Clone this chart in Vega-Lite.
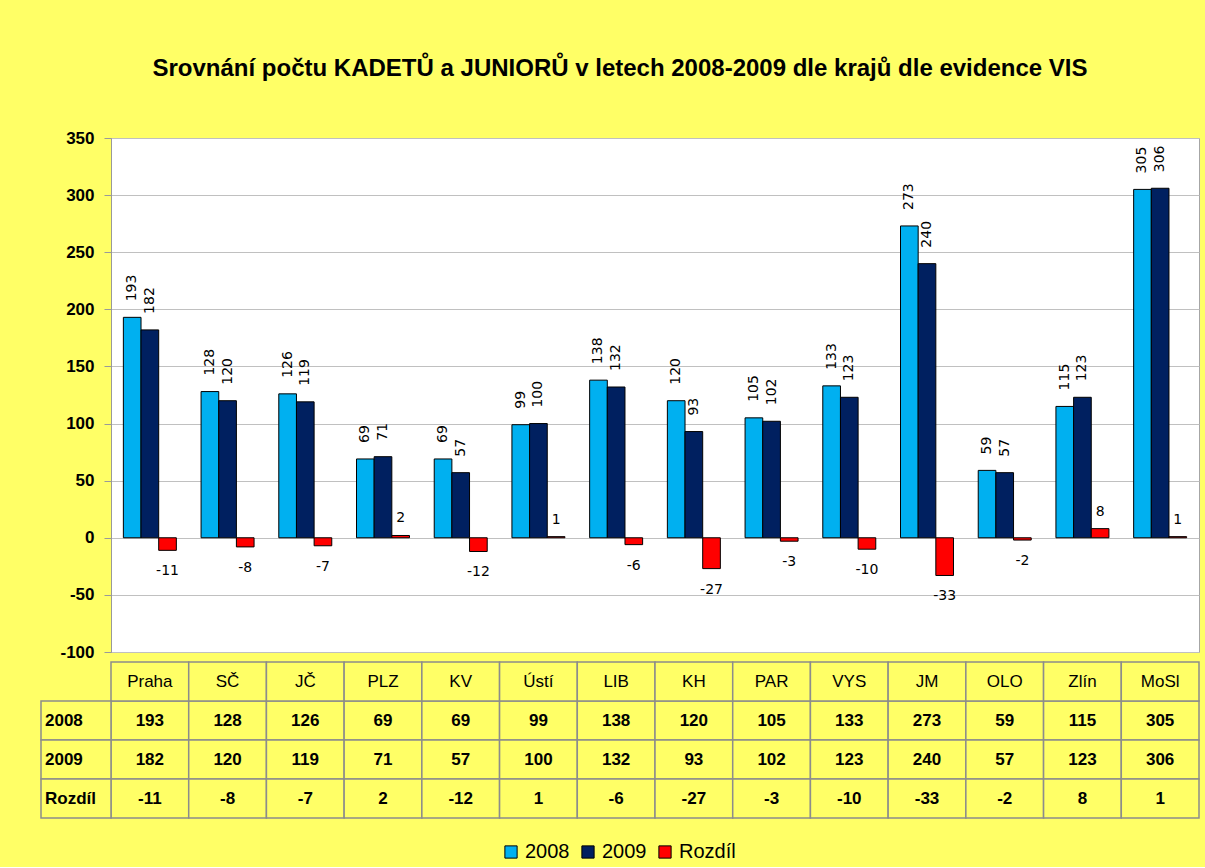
{
  "$schema": "https://vega.github.io/schema/vega-lite/v6.json",
  "background": "#FFFF66",
  "padding": {"left": 40, "top": 56, "right": 7, "bottom": 5},
  "title": {"text": "Srovnání počtu KADETŮ a JUNIORŮ v letech 2008-2009 dle krajů dle evidence VIS", "font": "Liberation Sans", "fontSize": 24, "fontWeight": "bold", "color": "black", "offset": 48, "anchor": "middle"},
  "config": {"view": {"stroke": null}, "font": "Liberation Sans"},
  "spacing": 0,
  "datasets": {
    "d": [
      {"kraj": "Praha", "rok": "2008", "hodnota": 193}, {"kraj": "Praha", "rok": "2009", "hodnota": 182}, {"kraj": "Praha", "rok": "Rozdíl", "hodnota": -11},
      {"kraj": "SČ", "rok": "2008", "hodnota": 128}, {"kraj": "SČ", "rok": "2009", "hodnota": 120}, {"kraj": "SČ", "rok": "Rozdíl", "hodnota": -8},
      {"kraj": "JČ", "rok": "2008", "hodnota": 126}, {"kraj": "JČ", "rok": "2009", "hodnota": 119}, {"kraj": "JČ", "rok": "Rozdíl", "hodnota": -7},
      {"kraj": "PLZ", "rok": "2008", "hodnota": 69}, {"kraj": "PLZ", "rok": "2009", "hodnota": 71}, {"kraj": "PLZ", "rok": "Rozdíl", "hodnota": 2},
      {"kraj": "KV", "rok": "2008", "hodnota": 69}, {"kraj": "KV", "rok": "2009", "hodnota": 57}, {"kraj": "KV", "rok": "Rozdíl", "hodnota": -12},
      {"kraj": "Ústí", "rok": "2008", "hodnota": 99}, {"kraj": "Ústí", "rok": "2009", "hodnota": 100}, {"kraj": "Ústí", "rok": "Rozdíl", "hodnota": 1},
      {"kraj": "LIB", "rok": "2008", "hodnota": 138}, {"kraj": "LIB", "rok": "2009", "hodnota": 132}, {"kraj": "LIB", "rok": "Rozdíl", "hodnota": -6},
      {"kraj": "KH", "rok": "2008", "hodnota": 120}, {"kraj": "KH", "rok": "2009", "hodnota": 93}, {"kraj": "KH", "rok": "Rozdíl", "hodnota": -27},
      {"kraj": "PAR", "rok": "2008", "hodnota": 105}, {"kraj": "PAR", "rok": "2009", "hodnota": 102}, {"kraj": "PAR", "rok": "Rozdíl", "hodnota": -3},
      {"kraj": "VYS", "rok": "2008", "hodnota": 133}, {"kraj": "VYS", "rok": "2009", "hodnota": 123}, {"kraj": "VYS", "rok": "Rozdíl", "hodnota": -10},
      {"kraj": "JM", "rok": "2008", "hodnota": 273}, {"kraj": "JM", "rok": "2009", "hodnota": 240}, {"kraj": "JM", "rok": "Rozdíl", "hodnota": -33},
      {"kraj": "OLO", "rok": "2008", "hodnota": 59}, {"kraj": "OLO", "rok": "2009", "hodnota": 57}, {"kraj": "OLO", "rok": "Rozdíl", "hodnota": -2},
      {"kraj": "Zlín", "rok": "2008", "hodnota": 115}, {"kraj": "Zlín", "rok": "2009", "hodnota": 123}, {"kraj": "Zlín", "rok": "Rozdíl", "hodnota": 8},
      {"kraj": "MoSl", "rok": "2008", "hodnota": 305}, {"kraj": "MoSl", "rok": "2009", "hodnota": 306}, {"kraj": "MoSl", "rok": "Rozdíl", "hodnota": 1}
    ]
  },
  "vconcat": [
    {
      "width": 1088,
      "height": 514,
      "data": {"name": "d"},
      "view": {"fill": "white", "stroke": "#a6a6a6"},
      "encoding": {
        "x": {"field": "kraj", "type": "nominal", "sort": null, "axis": null, "scale": {"paddingInner": 0, "paddingOuter": 0}},
        "xOffset": {"field": "rok", "type": "nominal", "sort": null, "scale": {"paddingInner": 0, "paddingOuter": 0.7}},
        "y": {"field": "hodnota", "type": "quantitative", "scale": {"domain": [-100, 350], "nice": false, "zero": false},
          "axis": {"title": null, "values": [-100, -50, 0, 50, 100, 150, 200, 250, 300, 350], "labelExpr": "'' + datum.value", "tickSize": 7, "tickColor": "#999999", "domainColor": "#999999", "gridColor": "#c0c0c0", "labelFont": "Liberation Sans", "labelFontSize": 17, "labelFontWeight": "bold", "labelColor": "black", "labelPadding": 10}}
      },
      "layer": [
        {
          "mark": {"type": "bar", "stroke": "black", "strokeWidth": 1},
          "encoding": {
            "color": {"field": "rok", "type": "nominal", "sort": null,
              "scale": {"domain": ["2008", "2009", "Rozdíl"], "range": ["#00B0F0", "#002060", "#FF0000"]},
              "legend": {"orient": "none", "legendX": 390, "legendY": 704, "direction": "horizontal", "title": null, "symbolType": "square", "symbolSize": 150, "symbolStrokeColor": "black", "symbolStrokeWidth": 1, "labelFont": "Liberation Sans", "labelFontSize": 20, "labelColor": "black", "labelOffset": 4, "columnPadding": 8}}
          }
        },
        {
          "transform": [{"filter": "datum.rok !== 'Rozdíl'"}],
          "mark": {"type": "text", "angle": 270, "align": "left", "baseline": "middle", "dx": 16, "font": "DejaVu Sans", "fontSize": 14, "color": "black"},
          "encoding": {"text": {"field": "hodnota", "type": "nominal"}}
        },
        {
          "transform": [{"filter": "datum.rok === 'Rozdíl' && datum.hodnota < 0"}],
          "mark": {"type": "text", "align": "center", "baseline": "top", "dy": 14, "font": "DejaVu Sans", "fontSize": 14, "color": "black"},
          "encoding": {"text": {"field": "hodnota", "type": "nominal"}}
        },
        {
          "transform": [{"filter": "datum.rok === 'Rozdíl' && datum.hodnota >= 0"}],
          "mark": {"type": "text", "align": "center", "baseline": "bottom", "dy": -10, "font": "DejaVu Sans", "fontSize": 14, "color": "black"},
          "encoding": {"text": {"field": "hodnota", "type": "nominal"}}
        }
      ]
    },
    {
      "width": 1088,
      "height": 156,
      "data": {"name": "d"},
      "resolve": {"scale": {"x": "independent"}},
      "encoding": {
        "y": {"field": "rok", "type": "nominal", "scale": {"domain": ["Kraj", "2008", "2009", "Rozdíl"], "paddingInner": 0, "paddingOuter": 0}, "axis": null}
      },
      "layer": [
        {
          "mark": {"type": "rect", "fill": "#FFFF66", "stroke": "#8c8c8c", "strokeWidth": 1.5},
          "encoding": {"x": {"field": "kraj", "type": "nominal", "sort": null, "axis": null, "scale": {"paddingInner": 0, "paddingOuter": 0}}}
        },
        {
          "transform": [{"filter": "datum.rok === '2008'"}],
          "mark": {"type": "rect", "fill": "#FFFF66", "stroke": "#8c8c8c", "strokeWidth": 1.5},
          "encoding": {"x": {"field": "kraj", "type": "nominal", "sort": null, "axis": null, "scale": {"paddingInner": 0, "paddingOuter": 0}}, "y": {"datum": "Kraj", "type": "nominal"}}
        },
        {
          "transform": [{"filter": "datum.rok === '2008'"}],
          "mark": {"type": "text", "font": "Liberation Sans", "fontSize": 17, "color": "black", "baseline": "middle"},
          "encoding": {"x": {"field": "kraj", "type": "nominal", "sort": null, "axis": null, "scale": {"paddingInner": 0, "paddingOuter": 0}}, "y": {"datum": "Kraj", "type": "nominal"}, "text": {"field": "kraj"}}
        },
        {
          "mark": {"type": "text", "font": "Liberation Sans", "fontSize": 17, "fontWeight": "bold", "color": "black", "baseline": "middle"},
          "encoding": {"x": {"field": "kraj", "type": "nominal", "sort": null, "axis": null, "scale": {"paddingInner": 0, "paddingOuter": 0}}, "text": {"field": "hodnota", "type": "nominal"}}
        },
        {
          "transform": [{"filter": "datum.kraj === 'Praha'"}],
          "mark": {"type": "rect", "fill": "#FFFF66", "stroke": "#8c8c8c", "strokeWidth": 1.5},
          "encoding": {"x": {"datum": "lab", "type": "nominal", "axis": null, "scale": {"range": [-70, 0], "paddingInner": 0, "paddingOuter": 0}}}
        },
        {
          "transform": [{"filter": "datum.kraj === 'Praha'"}],
          "mark": {"type": "text", "font": "Liberation Sans", "fontSize": 17, "fontWeight": "bold", "color": "black", "align": "left", "baseline": "middle", "dx": -31},
          "encoding": {"x": {"datum": "lab", "type": "nominal", "axis": null, "scale": {"range": [-70, 0], "paddingInner": 0, "paddingOuter": 0}}, "text": {"field": "rok"}}
        }
      ]
    }
  ]
}
